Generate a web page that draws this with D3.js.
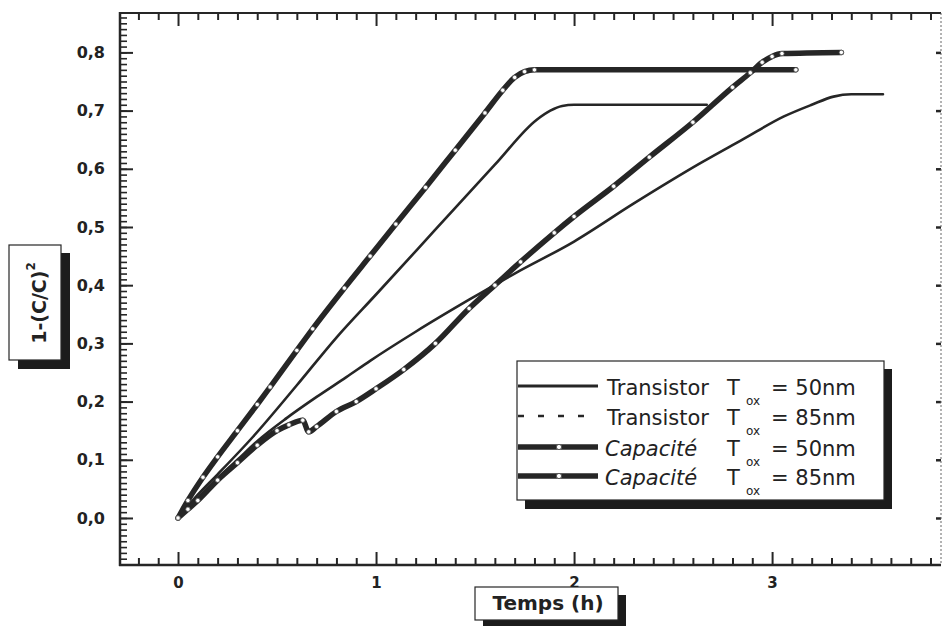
<!DOCTYPE html>
<html>
<head>
<meta charset="utf-8">
<script src="https://cdn.jsdelivr.net/npm/d3@7"></script>
<style>
  html, body { margin: 0; padding: 0; background: #fff; }
  svg { display: block; }
  text { font-family: "Comic Sans MS", "DejaVu Sans", sans-serif; fill: #222; }
</style>
</head>
<body>
<svg id="chart" width="943" height="626"></svg>
<script>
// ---------- data ----------
const capA_t = [0, 0.05, 0.126, 0.2, 0.3, 0.4, 0.465, 0.6, 0.68, 0.84, 0.97, 1.1, 1.25, 1.4, 1.55, 1.64, 1.7, 1.75, 1.8, 3.12];
const capA_v = [0, 0.03, 0.07, 0.105, 0.15, 0.195, 0.225, 0.288, 0.325, 0.395, 0.45, 0.505, 0.568, 0.632, 0.696, 0.735, 0.757, 0.767, 0.77, 0.77];

const trA_t = [0, 0.1, 0.2, 0.38, 0.6, 0.8, 1.0, 1.21, 1.4, 1.6, 1.81, 1.88, 1.94, 2.0, 2.67];
const trA_v = [0, 0.04, 0.075, 0.14, 0.228, 0.31, 0.384, 0.462, 0.533, 0.607, 0.684, 0.70, 0.708, 0.71, 0.71];

const capB_t = [0, 0.05, 0.1, 0.2, 0.3, 0.4, 0.5, 0.56, 0.63, 0.66, 0.7, 0.8, 0.9, 1.0, 1.14, 1.3, 1.47, 1.6, 1.73, 1.9, 2.0, 2.2, 2.38, 2.6, 2.8, 2.89, 2.95, 3.0, 3.05, 3.35];
const capB_v = [0, 0.015, 0.03, 0.065, 0.095, 0.125, 0.15, 0.16, 0.168, 0.148, 0.157, 0.183, 0.2, 0.222, 0.255, 0.30, 0.36, 0.40, 0.44, 0.49, 0.518, 0.57, 0.62, 0.68, 0.74, 0.765, 0.783, 0.793, 0.798, 0.80];

const trB_t = [0, 0.1, 0.18, 0.3, 0.4, 0.55, 0.7, 0.85, 0.97, 1.2, 1.47, 1.7, 2.0, 2.3, 2.64, 2.85, 3.06, 3.2, 3.31, 3.4, 3.56];
const trB_v = [0, 0.035, 0.062, 0.10, 0.132, 0.172, 0.208, 0.242, 0.27, 0.32, 0.375, 0.42, 0.475, 0.54, 0.61, 0.65, 0.69, 0.71, 0.724, 0.728, 0.728];

const xMajorTicks = [0, 1, 2, 3];
const yMajorTicks = [0, 0.1, 0.2, 0.3, 0.4, 0.5, 0.6, 0.7, 0.8];
const legendLabels = ["Transistor", "Transistor", "Capacité", "Capacité"];
const legendThickness = ["50nm", "85nm", "50nm", "85nm"];
const xTitle = "Temps (h)";

// ---------- setup ----------
const svg = d3.select("#chart");
const L = 120, R = 941, T = 13, B = 565;
const x = d3.scaleLinear().domain([-0.293, 3.853]).range([L, R]);
const y = d3.scaleLinear().domain([-0.0808, 0.8677]).range([B, T]);
const ink = "#262626";
const fr = d3.formatLocale({decimal: ",", thousands: ".", grouping: [3], currency: ["", "€"]}).format(".1f");

const xMinor = d3.range(-2, 39).map(i => i / 10).filter(v => !xMajorTicks.includes(v));
const yMinor = d3.range(-8, 87).map(i => i / 100);

function styleAxis(g, w) {
  g.select(".domain").remove();
  g.selectAll(".tick line").attr("stroke", ink).attr("stroke-width", w);
}

// bottom axis (ticks inward)
svg.append("g").attr("transform", `translate(0,${B})`)
  .call(d3.axisBottom(x).tickValues(xMinor).tickSize(-7).tickFormat(""))
  .call(g => styleAxis(g, 2));
svg.append("g").attr("transform", `translate(0,${B})`)
  .call(d3.axisBottom(x).tickValues(xMajorTicks).tickSize(-13).tickFormat(""))
  .call(g => styleAxis(g, 2));
svg.append("g").attr("transform", `translate(0,${B})`)
  .call(d3.axisBottom(x).tickValues(xMajorTicks).tickSize(0).tickPadding(12).tickFormat(d3.format("d")))
  .call(g => { g.select(".domain").remove(); g.selectAll("text").attr("font-size", 15).attr("font-weight", "bold").attr("fill", "#222"); });

// top axis (ticks inward)
svg.append("g").attr("transform", `translate(0,${T})`)
  .call(d3.axisTop(x).tickValues(xMinor).tickSize(-7).tickFormat(""))
  .call(g => styleAxis(g, 2));
svg.append("g").attr("transform", `translate(0,${T})`)
  .call(d3.axisTop(x).tickValues(xMajorTicks).tickSize(-13).tickFormat(""))
  .call(g => styleAxis(g, 2));

// left axis
svg.append("g").attr("transform", `translate(${L},0)`)
  .call(d3.axisLeft(y).tickValues(yMinor).tickSize(-7).tickFormat(""))
  .call(g => styleAxis(g, 1.6));
svg.append("g").attr("transform", `translate(${L},0)`)
  .call(d3.axisLeft(y).tickValues(yMajorTicks).tickSize(-13).tickFormat(""))
  .call(g => styleAxis(g, 2));
svg.append("g").attr("transform", `translate(${L},0)`)
  .call(d3.axisLeft(y).tickValues(yMajorTicks).tickSize(0).tickPadding(15).tickFormat(fr))
  .call(g => { g.select(".domain").remove(); g.selectAll("text").attr("font-size", 16).attr("font-weight", "bold").attr("fill", "#222"); });

// right axis
svg.append("g").attr("transform", `translate(${R},0)`)
  .call(d3.axisRight(y).tickValues(yMajorTicks).tickSize(-5).tickFormat(""))
  .call(g => styleAxis(g, 2.5));

// frame
svg.append("line").attr("x1", L).attr("x2", L).attr("y1", T - 1).attr("y2", B + 1).attr("stroke", ink).attr("stroke-width", 2.5);
svg.append("line").attr("x1", L - 1).attr("x2", R).attr("y1", B).attr("y2", B).attr("stroke", ink).attr("stroke-width", 2.5);
svg.append("line").attr("x1", L - 1).attr("x2", R).attr("y1", T).attr("y2", T).attr("stroke", ink).attr("stroke-width", 2);
svg.append("line").attr("x1", R).attr("x2", R).attr("y1", T).attr("y2", B).attr("stroke", "#666").attr("stroke-width", 1).attr("stroke-dasharray", "2,2");

// ---------- series ----------
const line = d3.line().x(d => x(d[0])).y(d => y(d[1])).curve(d3.curveMonotoneX);
const zip = (a, b) => a.map((v, i) => [v, b[i]]);
const series = [
  {pts: zip(trA_t, trA_v), w: 2.6, markers: false},
  {pts: zip(trB_t, trB_v), w: 2.6, markers: false},
  {pts: zip(capA_t, capA_v), w: 5.5, markers: true},
  {pts: zip(capB_t, capB_v), w: 5.5, markers: true}
];
const plot = svg.append("g");
series.forEach(s => {
  plot.append("path").datum(s.pts).attr("d", line)
    .attr("fill", "none").attr("stroke", ink).attr("stroke-width", s.w)
    .attr("stroke-linejoin", "round").attr("stroke-linecap", "round");
});
series.filter(s => s.markers).forEach(s => {
  plot.selectAll(null).data(s.pts).enter().append("circle")
    .attr("cx", d => x(d[0])).attr("cy", d => y(d[1])).attr("r", 2.2)
    .attr("fill", "#fff").attr("stroke", "#555").attr("stroke-width", 0.8);
});

// ---------- legend ----------
const lg = svg.append("g");
lg.append("rect").attr("x", 525).attr("y", 369).attr("width", 367).attr("height", 140).attr("fill", "#1c1c1c");
lg.append("rect").attr("x", 517).attr("y", 361).attr("width", 367).attr("height", 139).attr("fill", "#fff").attr("stroke", ink).attr("stroke-width", 1.2);
const rowBase = [395, 425, 456, 485];
const sample = [
  {w: 2.8, dash: null, marker: false},
  {w: 2.5, dash: "6,14", marker: false},
  {w: 5.5, dash: null, marker: true},
  {w: 5.5, dash: null, marker: true}
];
rowBase.forEach((b, i) => {
  const ly = b - 9;
  const s = sample[i];
  lg.append("line").attr("x1", 518).attr("x2", 598).attr("y1", ly).attr("y2", ly)
    .attr("stroke", ink).attr("stroke-width", s.w).attr("stroke-dasharray", s.dash);
  if (s.marker) lg.append("circle").attr("cx", 559).attr("cy", ly).attr("r", 2.6).attr("fill", "#fff").attr("stroke", "#555").attr("stroke-width", 1);
  lg.append("text").attr("x", i < 2 ? 607 : 605).attr("y", b).attr("font-size", 21)
    .attr("font-style", i < 2 ? "normal" : "italic").text(legendLabels[i]);
  lg.append("text").attr("x", 727).attr("y", b).attr("font-size", 21).text("T");
  lg.append("text").attr("x", 746).attr("y", b + 10).attr("font-size", 12).text("ox");
  lg.append("text").attr("x", 771).attr("y", b).attr("font-size", 21).text("= " + legendThickness[i]);
});

// ---------- axis titles ----------
svg.append("rect").attr("x", 483).attr("y", 595).attr("width", 143).attr("height", 40).attr("fill", "#1c1c1c");
svg.append("rect").attr("x", 475).attr("y", 587).attr("width", 143).attr("height", 33).attr("fill", "#fff").attr("stroke", ink).attr("stroke-width", 1.2);
svg.append("text").attr("x", 548).attr("y", 610).attr("text-anchor", "middle").attr("font-size", 20).attr("font-weight", "bold").text(xTitle);

svg.append("rect").attr("x", 18).attr("y", 253).attr("width", 52).attr("height", 116).attr("fill", "#1c1c1c");
svg.append("rect").attr("x", 9).attr("y", 245).attr("width", 52).attr("height", 115).attr("fill", "#fff").attr("stroke", ink).attr("stroke-width", 1.2);
const yt = svg.append("text").attr("transform", "translate(46,303) rotate(-90)")
  .attr("text-anchor", "middle").attr("font-size", 19).attr("font-weight", "bold");
yt.append("tspan").text("1-(C/C)");
yt.append("tspan").attr("font-size", 12).attr("dy", -11).text("2");
</script>
</body>
</html>
